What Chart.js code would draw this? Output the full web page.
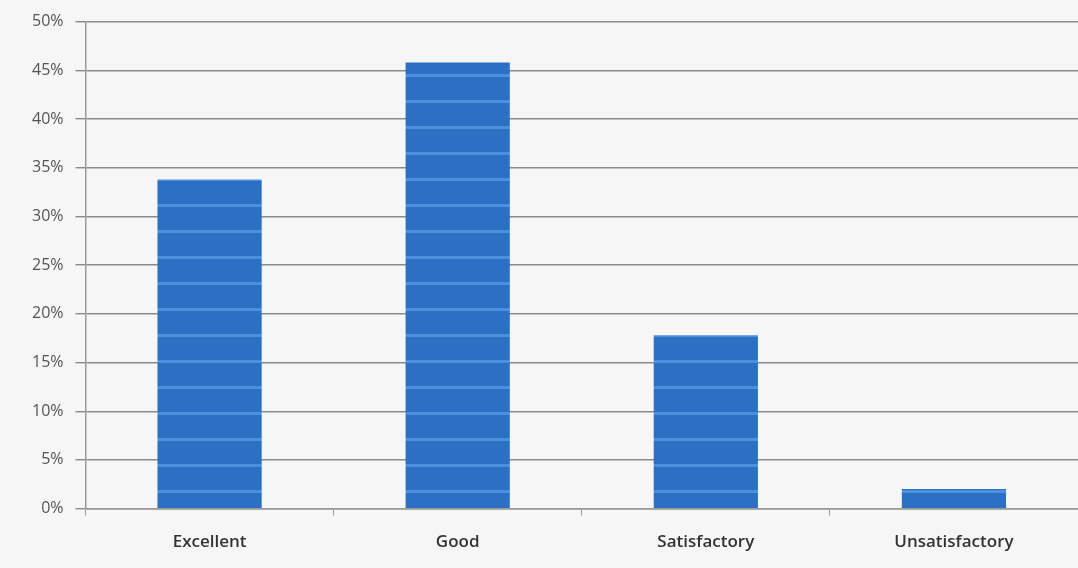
<!DOCTYPE html>
<html><head><meta charset="utf-8">
<script src="https://cdn.jsdelivr.net/npm/chart.js@4/dist/chart.umd.min.js"></script>
<style>html,body{margin:0;padding:0;background:#f6f6f6;}#wrap{width:1078px;height:568px;}</style>
</head><body><div id="wrap"><canvas id="c" width="1078" height="568"></canvas></div>
<script>
const categories = ["Excellent", "Good", "Satisfactory", "Unsatisfactory"];
const percentValues = [33.8, 45.8, 17.8, 2.0];
const yTickStep = 5;
const yMax = 50;

function stripePattern(){
  const p = document.createElement('canvas');
  p.width = 8; p.height = 26;
  const g = p.getContext('2d');
  g.fillStyle = '#2b70c2'; g.fillRect(0,0,8,26);
  g.fillStyle = '#4b90dc'; g.fillRect(0,22,8,3);
  return g.createPattern(p,'repeat');
}
const ctx = document.getElementById('c').getContext('2d');
new Chart(ctx, {
  type: 'bar',
  data: { labels: categories, datasets: [{ data: percentValues, backgroundColor: stripePattern(), borderWidth: 0, categoryPercentage: 1, barPercentage: 0.42 }] },
  options: {
    responsive: false, animation: false,
    layout: { padding: { top: 12, right: 0, left: 20, bottom: 0 } },
    plugins: { legend: { display: false }, tooltip: { enabled: false } },
    scales: {
      x: {
        grid: { display: true, drawOnChartArea: false, offset: true, color: '#999', tickLength: 7 },
        border: { color: '#999', width: 1.5 },
        ticks: { color: '#333', font: { family: 'Open Sans', size: 17, weight: '600' }, padding: 16 }
      },
      y: {
        min: 0, max: yMax,
        grid: { color: '#8a8a8a', lineWidth: 1.4, tickLength: 10 },
        border: { color: '#999', width: 1.5 },
        ticks: { stepSize: yTickStep, color: '#555', font: { family: 'Open Sans', size: 16 }, padding: 12, callback: v => v + '%' }
      }
    }
  }
});
</script></body></html>
